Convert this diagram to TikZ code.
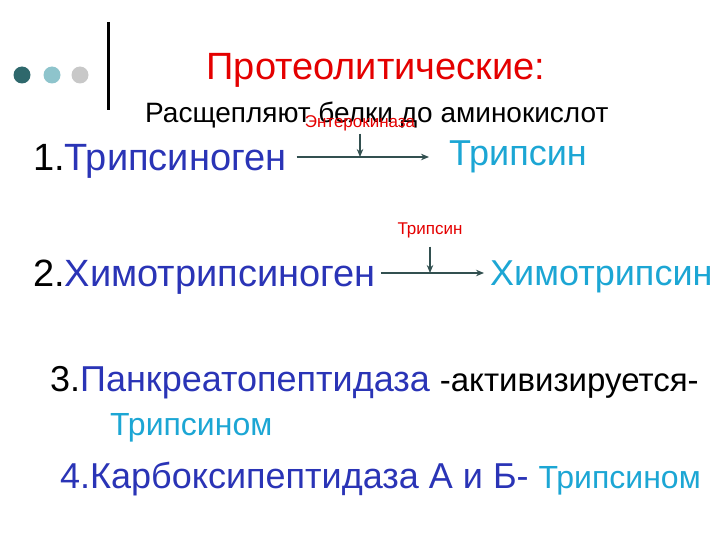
\documentclass[tikz,border=0pt]{standalone}
\usepackage{fontspec}
\setmainfont{Liberation Sans}
\usepackage{xcolor}
\usepackage{tikz}
\usetikzlibrary{arrows.meta}

\definecolor{darkblue}{RGB}{42,52,182}
\definecolor{lightblue}{RGB}{28,166,212}
\definecolor{titlered}{RGB}{228,0,0}
\definecolor{arrowgray}{RGB}{50,80,80}
\definecolor{dotone}{RGB}{46,104,108}
\definecolor{dottwo}{RGB}{142,196,204}
\definecolor{dotthree}{RGB}{200,200,200}

\begin{document}
\begin{tikzpicture}[x=1pt,y=-1pt,
  big text/.style={inner sep=0pt,font=\fontsize{36}{40}\selectfont},
  item text/.style={inner sep=0pt,font=\fontsize{38}{42}\selectfont},
  less text/.style={inner sep=0pt,font=\fontsize{32}{36}\selectfont},
  mid text/.style={inner sep=0pt,font=\fontsize{28}{32}\selectfont},
  small text/.style={inner sep=0pt,text=titlered,font=\fontsize{17}{20}\selectfont},
  arr/.style={draw=arrowgray,line width=1.2pt,-{Stealth[length=8pt,width=6.5pt]}}]
        \useasboundingbox (0,0) rectangle (720,540);
        % dots and bar
        \fill[dotone] (22,75) circle (8.5);
        \fill[dottwo] (52,75) circle (8.5);
        \fill[dotthree] (80,75) circle (8.5);
        \draw[line width=3pt] (108,22) -- (108,110);
        % heading
        \node[item text,text=titlered,anchor=base] (title) at (376,80) {Протеолитические:};
        \node[mid text,anchor=base west] (sub) at (145,123) {Расщепляют белки до аминокислот};
        % 1
        \node[small text,anchor=base] (ek) at (360,128) {Энтерокиназа};
        \node[item text,anchor=base west] (tg) at (33,171) {1.\textcolor{darkblue}{Трипсиноген}};
        \node[big text,text=lightblue,anchor=base west] (tr) at (449,166) {Трипсин};
        \coordinate (m1) at (360,157);
        \draw[arr] ([xshift=10]tg.east |- m1) -- ([xshift=-20]tr.west |- m1);
        \draw[arr] ([yshift=-2]ek.south) -- (m1);
        % 2
        \node[small text,anchor=base] (tp) at (430,235) {Трипсин};
        \node[item text,anchor=base west] (ctg) at (33,286) {2.\textcolor{darkblue}{Химотрипсиноген}};
        \node[big text,text=lightblue,anchor=base west] (ctr) at (490,285) {Химотрипсин};
        \coordinate (m2) at (430,273);
        \draw[arr] ([xshift=5]ctg.east |- m2) -- ([xshift=-6]ctr.west |- m2);
        \draw[arr] ([yshift=-8]tp.south) -- (m2);
        % 3 and 4
        \node[big text,anchor=base west] (p3) at (50,391) {3.\textcolor{darkblue}{Панкреатопептидаза} {\fontsize{33}{36}\selectfont -активизируется-}};
        \node[less text,text=lightblue,anchor=base west] (p3b) at (110,435) {Трипсином};
        \node[big text,text=darkblue,anchor=base west] (p4) at (60,488) {4.Карбоксипептидаза А и Б- {\fontsize{32}{36}\selectfont\textcolor{lightblue}{Трипсином}}};
\end{tikzpicture}
\end{document}
